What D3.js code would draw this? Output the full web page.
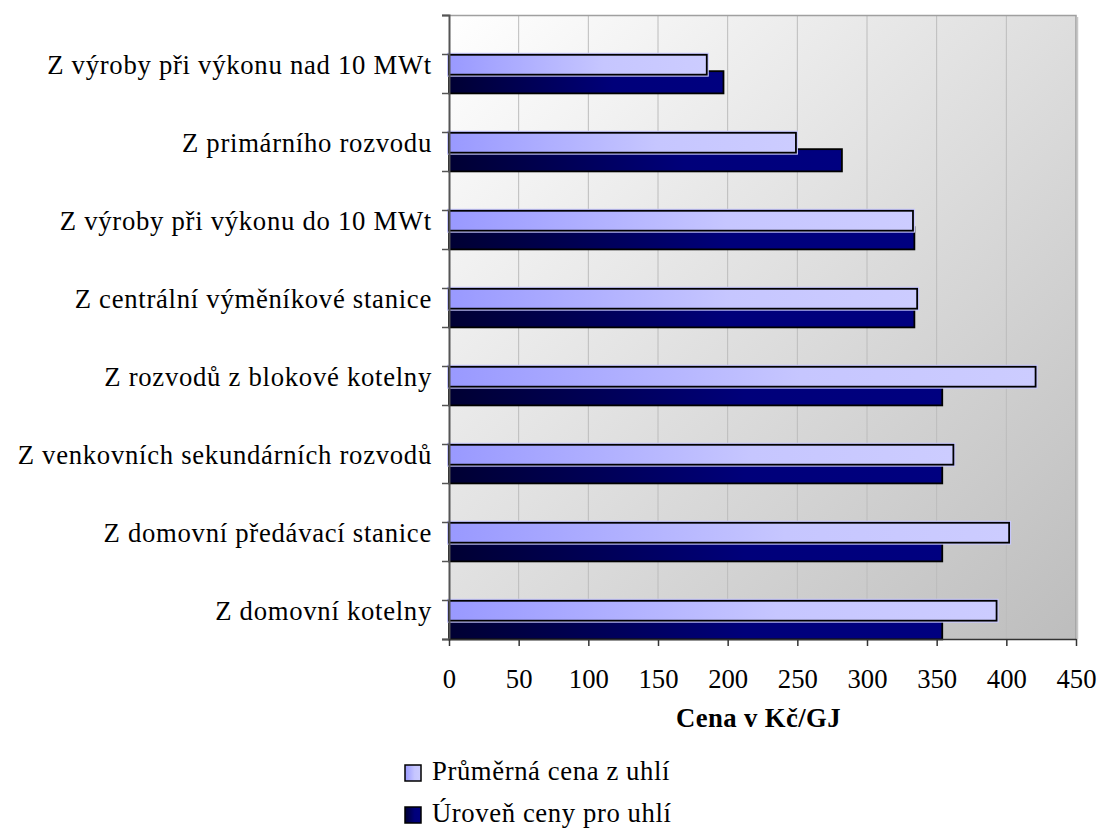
<!DOCTYPE html>
<html>
<head>
<meta charset="utf-8">
<script src="https://cdn.jsdelivr.net/npm/d3@7"></script>
<style>
  body { margin: 0; background: #fff; }
</style>
</head>
<body>
<svg id="chart" width="1100" height="829"></svg>
<script>
// chart data
const categories = [
  "Z výroby při výkonu nad 10 MWt",
  "Z primárního rozvodu",
  "Z výroby při výkonu do 10 MWt",
  "Z centrální výměníkové stanice",
  "Z rozvodů z blokové kotelny",
  "Z venkovních sekundárních rozvodů",
  "Z domovní předávací stanice",
  "Z domovní kotelny"
];
const avgPrice = [185, 249, 333, 336, 421, 362, 402, 393];
const priceLevel = [197, 282, 334, 334, 354, 354, 354, 354];
const xTicks = [0, 50, 100, 150, 200, 250, 300, 350, 400, 450];
const seriesNames = ["Průměrná cena z uhlí", "Úroveň ceny pro uhlí"];
const axisTitle = "Cena v Kč/GJ";

const serif = "'Liberation Serif', 'Times New Roman', 'DejaVu Serif', serif";
const svg = d3.select("#chart");
const plot = { left: 449, right: 1076, top: 15, bottom: 639 };
const fontSize = 26.7;

const x = d3.scaleLinear().domain([0, 450]).range([plot.left, plot.right]);
const y = d3.scaleBand().domain(categories).range([plot.top, plot.bottom]);
const bw = y.bandwidth();

// gradients
const defs = svg.append("defs");
const bg = defs.append("linearGradient").attr("id", "bg")
  .attr("x1", 0).attr("y1", 0).attr("x2", 1).attr("y2", 1);
bg.append("stop").attr("offset", 0).attr("stop-color", "#ffffff");
bg.append("stop").attr("offset", 1).attr("stop-color", "#bdbdbd");

const lightG = defs.append("linearGradient").attr("id", "lightG");
lightG.append("stop").attr("offset", 0).attr("stop-color", "#9999ff");
lightG.append("stop").attr("offset", 0.6).attr("stop-color", "#c6c6ff");
lightG.append("stop").attr("offset", 1).attr("stop-color", "#ccccff");

const darkG = defs.append("linearGradient").attr("id", "darkG");
darkG.append("stop").attr("offset", 0).attr("stop-color", "#000033");
darkG.append("stop").attr("offset", 0.6).attr("stop-color", "#00007a");
darkG.append("stop").attr("offset", 1).attr("stop-color", "#000080");

// plot background
svg.append("rect")
  .attr("x", plot.left).attr("y", plot.top)
  .attr("width", plot.right - plot.left).attr("height", plot.bottom - plot.top)
  .attr("fill", "url(#bg)");

// vertical gridlines
svg.append("g")
  .selectAll("line")
  .data(xTicks.slice(1, -1))
  .join("line")
  .attr("x1", d => x(d)).attr("x2", d => x(d))
  .attr("y1", plot.top).attr("y2", plot.bottom)
  .attr("stroke", "#bcbcbc").attr("stroke-width", 1);

// top and right border
svg.append("path")
  .attr("d", `M${plot.left},${plot.top + 0.5}H${plot.right}V${plot.bottom}`)
  .attr("fill", "none").attr("stroke", "#a0a0a0").attr("stroke-width", 1.5);
svg.append("line")
  .attr("x1", plot.right + 1.5).attr("x2", plot.right + 1.5)
  .attr("y1", plot.top + 2).attr("y2", plot.bottom)
  .attr("stroke", "#c8c8c8").attr("stroke-width", 1.5);

// dark bars (behind)
svg.append("g")
  .selectAll("rect")
  .data(categories)
  .join("rect")
  .attr("x", x(0))
  .attr("y", d => y(d) + bw * 0.72)
  .attr("width", (d, i) => x(priceLevel[i]) - x(0))
  .attr("height", bw * 0.285)
  .attr("fill", "url(#darkG)")
  .attr("stroke", "#000").attr("stroke-width", 1.8);

// light bars (front)
const lightBars = svg.append("g");
lightBars.selectAll("rect.halo")
  .data(categories)
  .join("rect")
  .attr("class", "halo")
  .attr("x", x(0))
  .attr("y", d => y(d) + bw * 0.51)
  .attr("width", (d, i) => x(avgPrice[i]) - x(0))
  .attr("height", bw * 0.255)
  .attr("fill", "none")
  .attr("stroke", "#c8c8ff").attr("stroke-width", 4);
lightBars.selectAll("rect.bar")
  .data(categories)
  .join("rect")
  .attr("class", "bar")
  .attr("x", x(0))
  .attr("y", d => y(d) + bw * 0.51)
  .attr("width", (d, i) => x(avgPrice[i]) - x(0))
  .attr("height", bw * 0.255)
  .attr("fill", "url(#lightG)")
  .attr("stroke", "#000").attr("stroke-width", 1.8);

// left axis: ticks at every half category
const yTick = d3.scaleLinear().domain([0, categories.length * 2]).range([plot.top, plot.bottom]);
const yAxis = svg.append("g")
  .attr("transform", `translate(${plot.left},0)`)
  .call(d3.axisLeft(yTick).tickValues(d3.range(0, categories.length * 2 + 1)).tickSize(7).tickFormat(""));
yAxis.selectAll("line").attr("stroke", "#555").attr("stroke-width", 1.5);
yAxis.select(".domain").attr("stroke", "#555").attr("stroke-width", 2);

// category labels
svg.append("g")
  .selectAll("text")
  .data(categories)
  .join("text")
  .attr("x", 432)
  .attr("y", d => y(d) + bw * 0.76)
  .attr("text-anchor", "end")
  .style("font-family", serif)
  .style("font-size", fontSize + "px")
  .style("letter-spacing", "0.72px")
  .text(d => d);

// bottom axis
const xAxis = svg.append("g")
  .attr("transform", `translate(0,${plot.bottom})`)
  .call(d3.axisBottom(x).tickValues(xTicks).tickSize(7).tickSizeOuter(0));
xAxis.select(".domain").attr("stroke", "#333").attr("stroke-width", 1.5);
xAxis.selectAll(".tick line").attr("stroke", "#333").attr("stroke-width", 1.5);
xAxis.selectAll(".tick text")
  .attr("y", 49).attr("dy", null)
  .style("font-family", serif)
  .style("font-size", fontSize + "px")
  .attr("fill", "#000");

// axis title
svg.append("text")
  .attr("x", (plot.left + plot.right) / 2 - 4)
  .attr("y", 727)
  .attr("text-anchor", "middle")
  .style("font-family", serif)
  .style("font-size", fontSize + "px")
  .style("font-weight", "bold")
  .style("letter-spacing", "0.4px")
  .text(axisTitle);

// legend
const legend = svg.append("g").attr("transform", "translate(405,765)");
const legendRows = legend.selectAll("g")
  .data(seriesNames)
  .join("g")
  .attr("transform", (d, i) => `translate(0,${i * 42})`);
legendRows.append("rect")
  .attr("width", 16).attr("height", 16)
  .attr("fill", (d, i) => i === 0 ? "url(#lightG)" : "url(#darkG)")
  .attr("stroke", "#000").attr("stroke-width", 1.5);
legendRows.append("text")
  .attr("x", 27).attr("y", 15)
  .style("font-family", serif)
  .style("font-size", fontSize + "px")
  .style("letter-spacing", "0.6px")
  .text(d => d);
</script>
</body>
</html>
